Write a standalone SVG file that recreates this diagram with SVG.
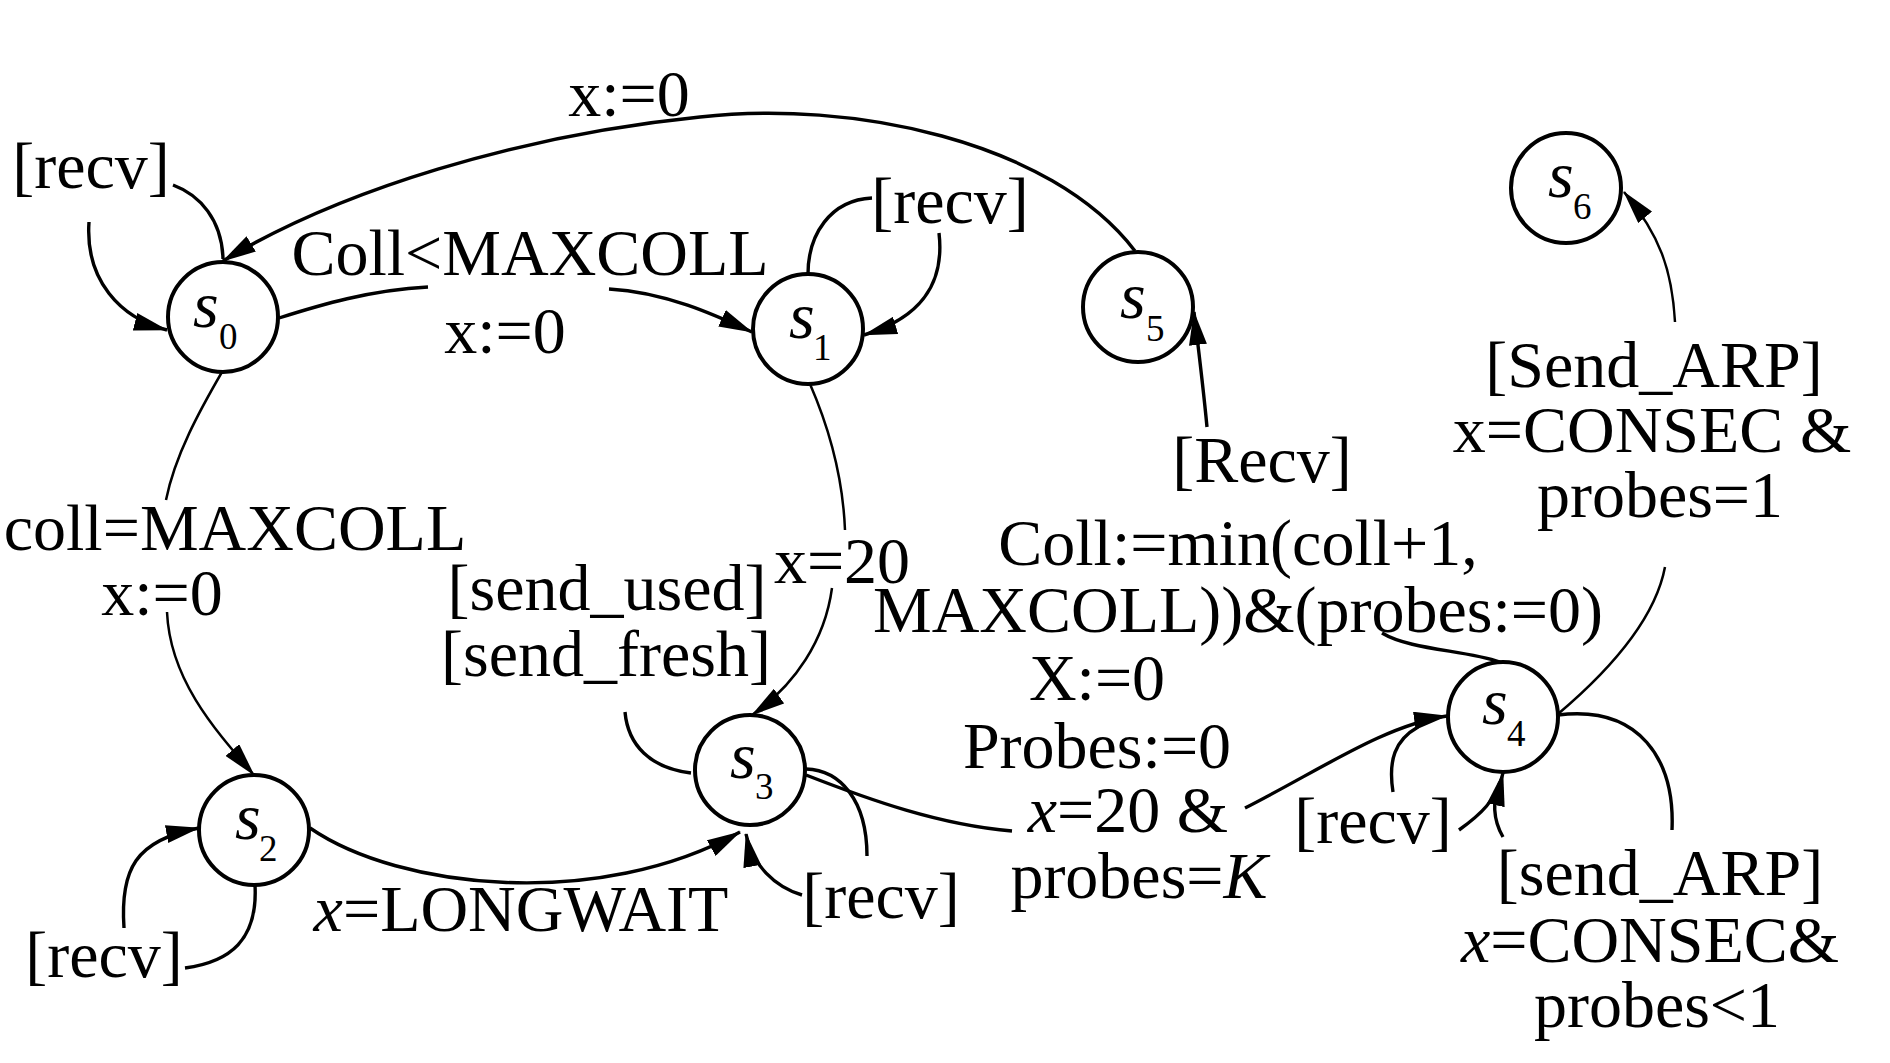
<svg xmlns="http://www.w3.org/2000/svg" width="1890" height="1063" viewBox="0 0 1890 1063">
<defs>
<marker id="ah" viewBox="0 0 34 18" refX="33" refY="9" markerWidth="34" markerHeight="18" markerUnits="userSpaceOnUse" orient="auto"><path d="M0,0 L34,9 L0,18 z" fill="#000"/></marker>
<style>
.n{fill:#fff;stroke:#000;stroke-width:4}
.e{fill:none;stroke:#000;stroke-width:3.4}
.t{fill:none;stroke:#000;stroke-width:2.5}
.a{marker-end:url(#ah)}
text{font-family:"Liberation Serif","Times New Roman",serif;fill:#000}
.l{font-size:66px;text-anchor:middle}
.s{font-size:66px;font-style:italic}
.sub{font-size:37px}
.i{font-style:italic}
</style>
</defs>
<rect width="1890" height="1063" fill="#fff"/>
<g id="connectors">
<path class="e a" d="M1135,251 C1050,140 850,100 700,117 C520,135 340,190 223,261"/>
<path class="e" d="M173,185 C200,195 222,220 223,259"/>
<path class="e a" d="M89,222 C85,280 120,318 167,330"/>
<path class="e" d="M279,318 C320,305 370,290 428,287"/>
<path class="e a" d="M609,289 C665,292 715,315 752,332"/>
<path class="e" d="M808,274 C808,235 830,200 872,198"/>
<path class="e a" d="M939,233 C945,285 920,318 864,335"/>
<path class="t" d="M810,384 C830,430 843,480 845,530"/>
<path class="t a" d="M832,588 C825,640 795,685 752,715"/>
<path class="t" d="M222,372 C200,410 175,455 166,500"/>
<path class="t a" d="M167,612 C170,680 215,730 254,775"/>
<path class="e" d="M255,885 C258,940 230,962 185,968"/>
<path class="e a" d="M124,928 C120,870 135,840 199,828"/>
<path class="e a" d="M310,828 C400,890 600,910 740,832"/>
<path class="e" d="M625,712 C628,745 650,768 691,773"/>
<path class="e" d="M806,769 C840,770 867,800 867,856"/>
<path class="e a" d="M802,895 C775,887 752,865 746,834"/>
<path class="e" d="M806,775 C870,800 940,825 1012,831"/>
<path class="e a" d="M1245,808 C1320,770 1385,725 1447,716"/>
<path class="e" d="M1500,662 C1465,650 1410,650 1382,633"/>
<path class="e a" d="M1207,427 C1203,385 1198,345 1194,312"/>
<path class="t" d="M1558,714 C1610,670 1655,620 1665,567"/>
<path class="t a" d="M1675,322 C1672,270 1660,235 1624,192"/>
<path class="e" d="M1393,792 C1388,760 1395,740 1418,727"/>
<path class="e a" d="M1459,830 C1480,815 1497,800 1503,773"/>
<path class="e" d="M1558,715 C1640,705 1675,760 1672,830"/>
<path class="e" d="M1503,837 C1493,820 1492,800 1500,782"/>
</g>
<g id="s0"><circle class="n" cx="223" cy="317" r="55"/><text class="s" x="193" y="327">s</text><text class="sub" x="219" y="349">0</text></g>
<g id="s1"><circle class="n" cx="808" cy="329" r="55"/><text class="s" x="789" y="338">s</text><text class="sub" x="813" y="360">1</text></g>
<g id="s2"><circle class="n" cx="254" cy="830" r="55"/><text class="s" x="235" y="839">s</text><text class="sub" x="259" y="861">2</text></g>
<g id="s3"><circle class="n" cx="750" cy="770" r="55"/><text class="s" x="730" y="778">s</text><text class="sub" x="755" y="799">3</text></g>
<g id="s4"><circle class="n" cx="1503" cy="717" r="55"/><text class="s" x="1482" y="724">s</text><text class="sub" x="1507" y="746">4</text></g>
<g id="s5"><circle class="n" cx="1138" cy="307" r="55"/><text class="s" x="1120" y="318">s</text><text class="sub" x="1146" y="341">5</text></g>
<g id="s6"><circle class="n" cx="1566" cy="188" r="55"/><text class="s" x="1548" y="197">s</text><text class="sub" x="1573" y="219">6</text></g>
<g id="labels">
<text class="l" x="629" y="116">x:=0</text>
<text class="l" x="91" y="188">[recv]</text>
<text class="l" x="530" y="275">Coll&lt;MAXCOLL</text>
<text class="l" x="505" y="353">x:=0</text>
<text class="l" x="950" y="223">[recv]</text>
<text class="l" x="1262" y="482">[Recv]</text>
<text class="l" x="1654" y="387">[Send_ARP]</text>
<text class="l" x="1652" y="452">x=CONSEC &amp;</text>
<text class="l" x="1660" y="517">probes=1</text>
<text class="l" x="235" y="550">coll=MAXCOLL</text>
<text class="l" x="162" y="615">x:=0</text>
<text class="l" x="842" y="583">x=20</text>
<text class="l" x="607" y="610">[send_used]</text>
<text class="l" x="606" y="676">[send_fresh]</text>
<text class="l" x="1238" y="565">Coll:=min(coll+1,</text>
<text class="l" x="1238" y="632">MAXCOLL))&amp;(probes:=0)</text>
<text class="l" x="1097" y="700">X:=0</text>
<text class="l" x="1097" y="768">Probes:=0</text>
<text class="l" x="1128" y="832"><tspan class="i">x</tspan>=20 &amp;</text>
<text class="l" x="1139" y="898">probes=<tspan class="i">K</tspan></text>
<text class="l" x="1373" y="843">[recv]</text>
<text class="l" x="1660" y="895">[send_ARP]</text>
<text class="l" x="1650" y="962"><tspan class="i">x</tspan>=CONSEC&amp;</text>
<text class="l" x="1657" y="1027">probes&lt;1</text>
<text class="l" x="881" y="918">[recv]</text>
<text class="l" x="521" y="931"><tspan class="i">x</tspan>=LONGWAIT</text>
<text class="l" x="104" y="977">[recv]</text>
</g>
</svg>
